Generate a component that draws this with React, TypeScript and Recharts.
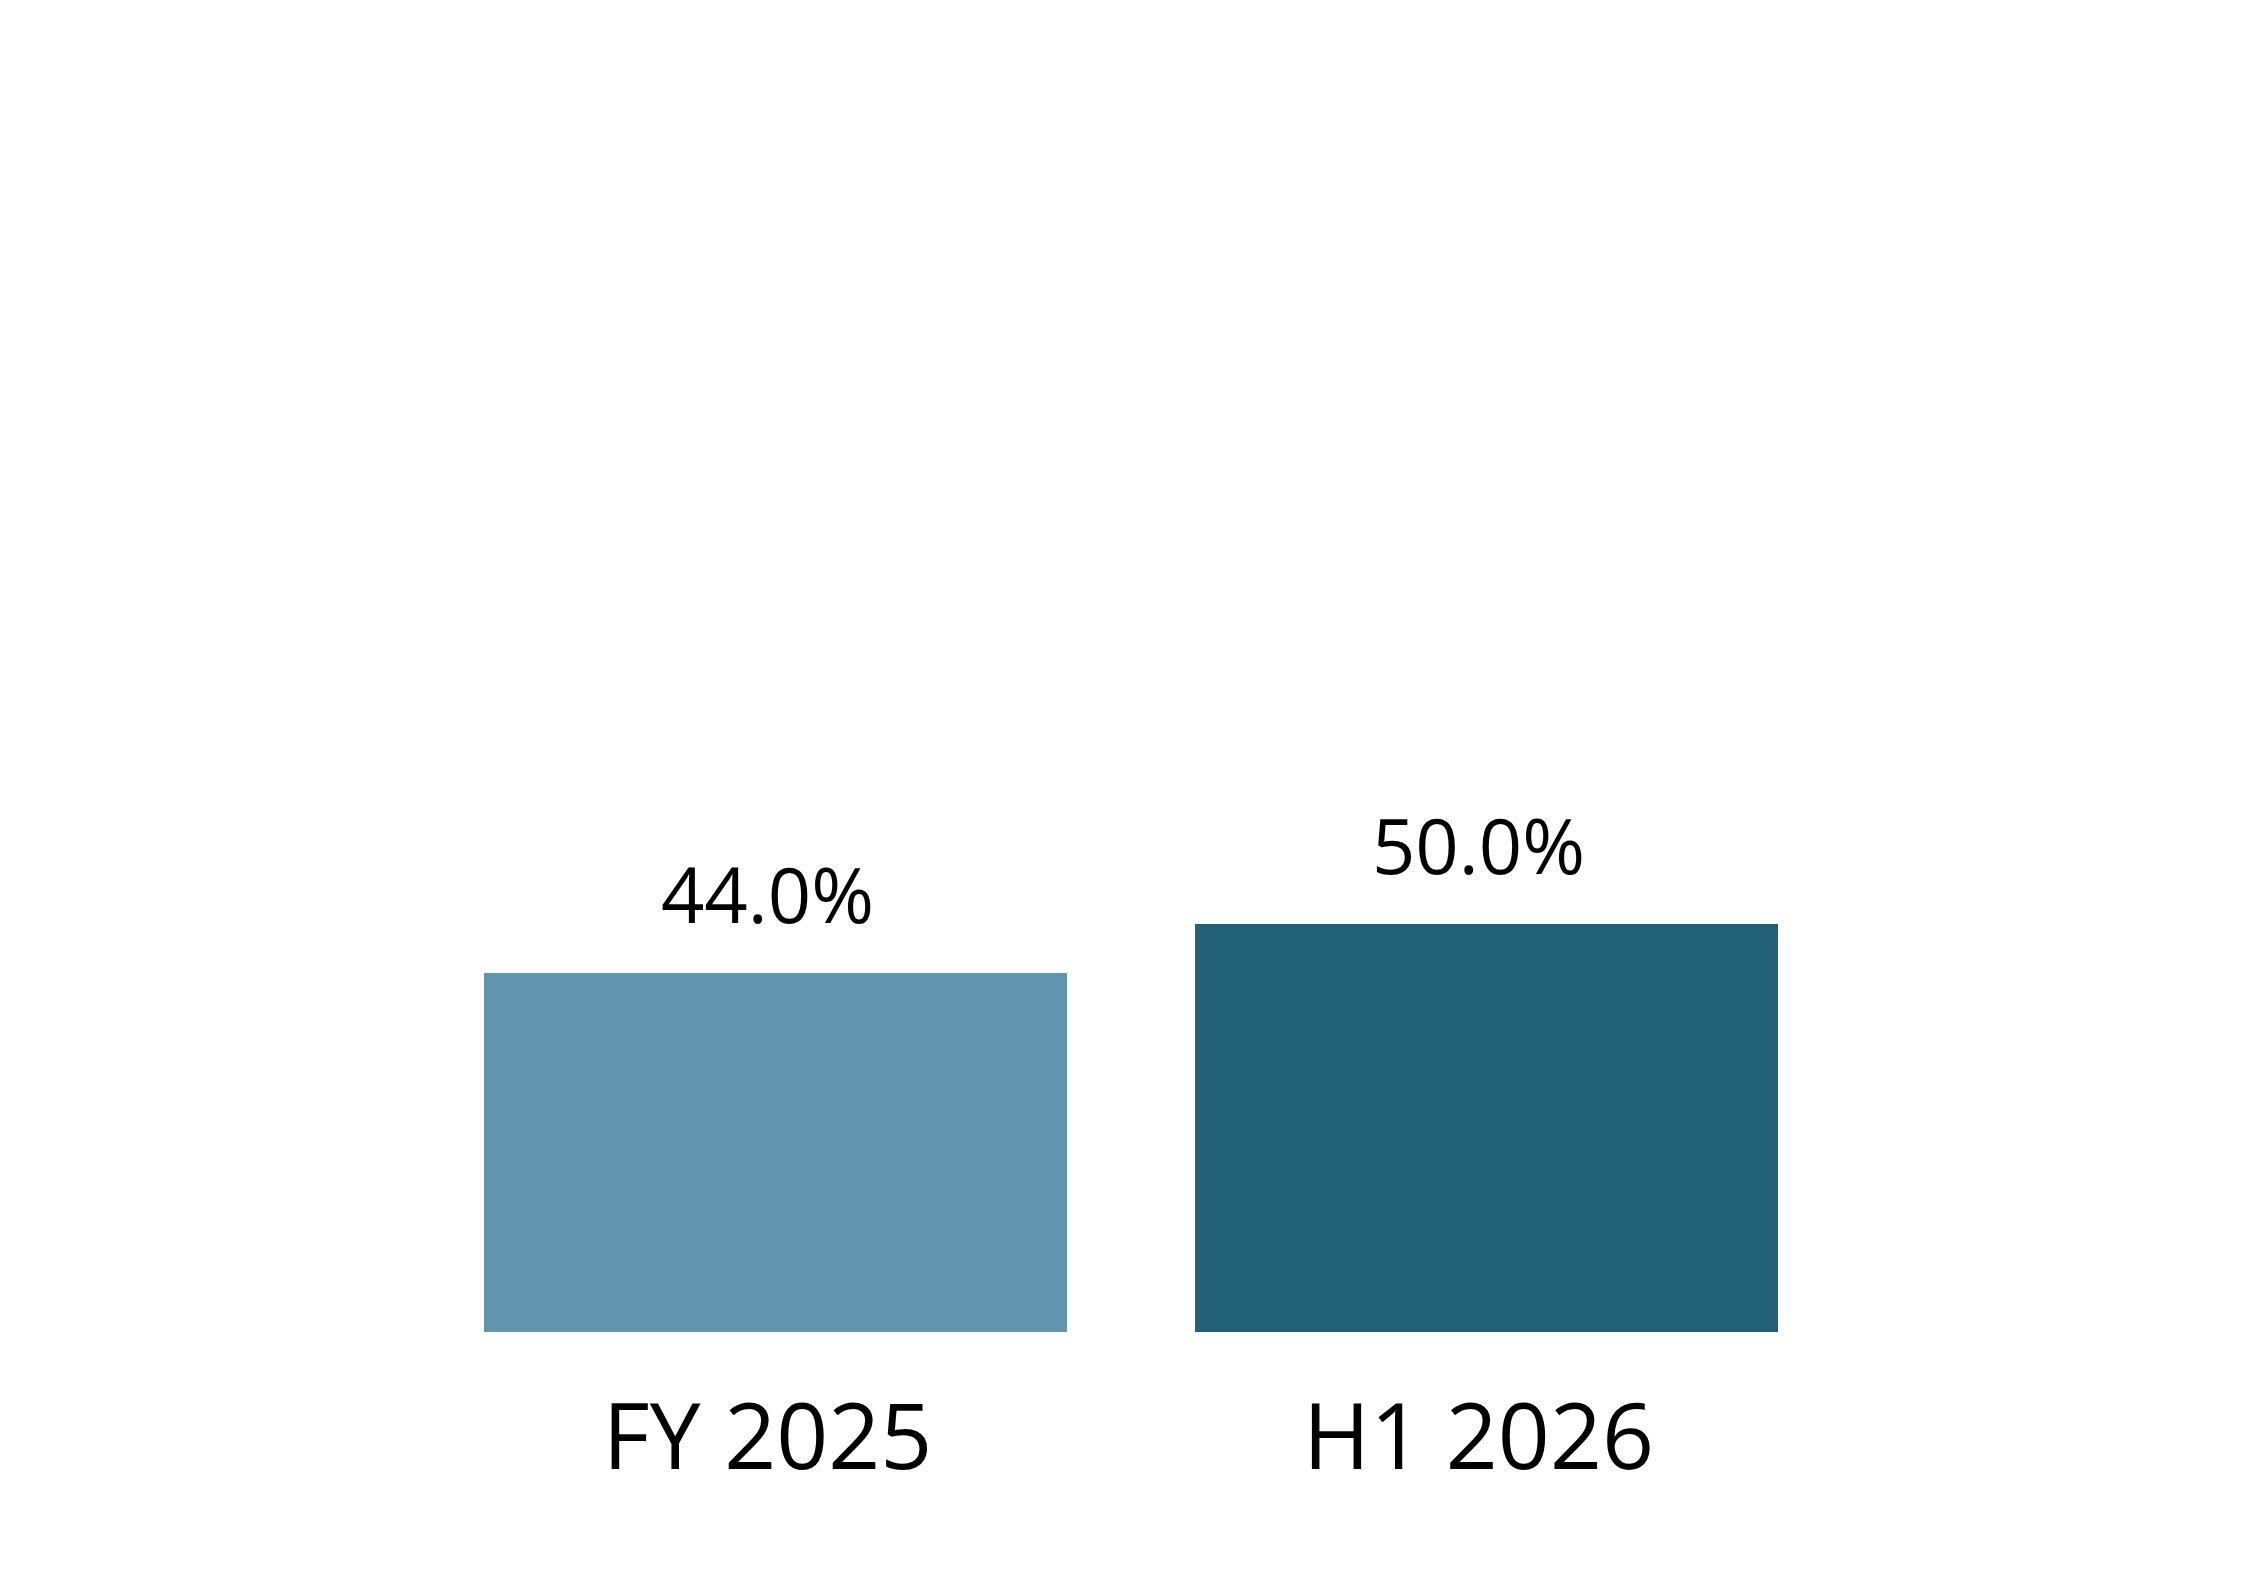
import { BarChart, Bar, XAxis, YAxis, Cell, LabelList } from "recharts";

const periods = ["FY 2025", "H1 2026"];
const shares = [44.0, 50.0];
const barColors = ["#6295AE", "#236178"];

const data = periods.map((period, i) => ({ period, share: shares[i] }));

const FONT = "'Open Sans', 'Noto Sans', sans-serif";

export default function App() {
  return (
    <div style={{ position: "absolute", left: 0, top: 0, background: "#fff" }}>
      <BarChart
        width={2262}
        height={1584}
        data={data}
        margin={{ top: 516, right: 420, bottom: 92, left: 420 }}
        barCategoryGap="9%"
      >
        <XAxis
          dataKey="period"
          axisLine={false}
          tickLine={false}
          tickMargin={66}
          height={160}
          tick={{ fontSize: 91, fill: "#000", fontFamily: FONT, dx: -8 }}
        />
        <YAxis hide domain={[0, 100]} />
        <Bar dataKey="share" isAnimationActive={false}>
          {data.map((d, i) => (
            <Cell key={d.period} fill={barColors[i]} />
          ))}
          <LabelList
            dataKey="share"
            position="top"
            offset={50}
            formatter={(v: number) => `${v.toFixed(1)}%`}
            style={{ fontSize: 76, fill: "#000", fontFamily: FONT, transform: "translateX(-8px)" }}
          />
        </Bar>
      </BarChart>
    </div>
  );
}
